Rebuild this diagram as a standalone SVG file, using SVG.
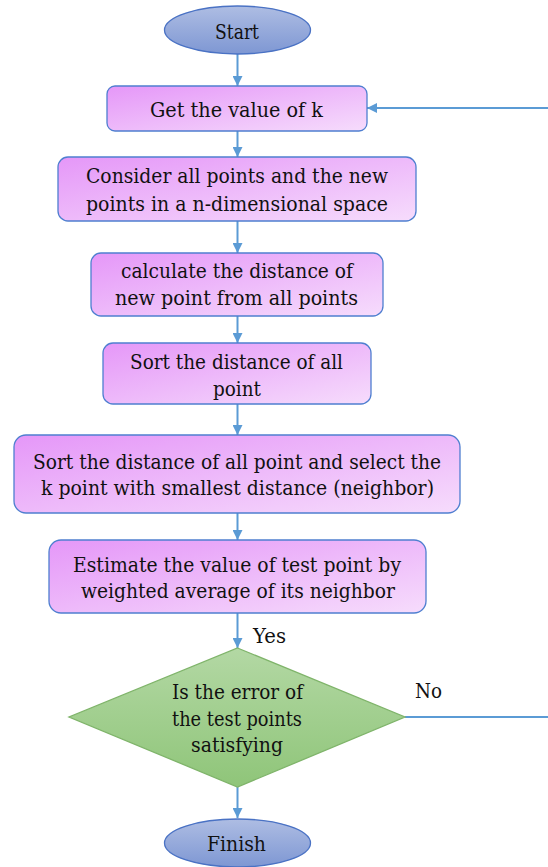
<svg xmlns="http://www.w3.org/2000/svg" width="548" height="867" viewBox="0 0 548 867">
<defs>
<linearGradient id="gE" x1="0" y1="0" x2="0" y2="1"><stop offset="0" stop-color="#aebde3"/><stop offset="1" stop-color="#7e97d3"/></linearGradient>
<linearGradient id="gB" x1="0" y1="0" x2="1" y2="1"><stop offset="0" stop-color="#e597f8"/><stop offset="1" stop-color="#f6dcfc"/></linearGradient>
<linearGradient id="gD" x1="0" y1="0" x2="0" y2="1"><stop offset="0" stop-color="#b3d8a4"/><stop offset="1" stop-color="#8fc579"/></linearGradient>
<marker id="ah" viewBox="0 0 10 10" refX="10" refY="5" markerWidth="5" markerHeight="5" orient="auto" markerUnits="strokeWidth"><path d="M0,0 L10,5 L0,10 z" fill="#5b9bd5"/></marker>
<style>
.t{font-family:'DejaVu Serif','Liberation Serif',serif;font-size:20px;fill:#111;text-anchor:middle}
.e{fill:url(#gE);stroke:#4a72c4;stroke-width:1.3}
.b{fill:url(#gB);stroke:#4f7fd0;stroke-width:1.3}
.d{fill:url(#gD);stroke:#7fb46a;stroke-width:1.3}
.c{fill:none;stroke:#5b9bd5;stroke-width:2}
</style>
</defs>
<g id="connectors">
<line class="c" x1="237.5" y1="54" x2="237.5" y2="86" marker-end="url(#ah)"/>
<line class="c" x1="237.5" y1="131" x2="237.5" y2="157" marker-end="url(#ah)"/>
<line class="c" x1="237.5" y1="221" x2="237.5" y2="253" marker-end="url(#ah)"/>
<line class="c" x1="237.5" y1="316" x2="237.5" y2="343" marker-end="url(#ah)"/>
<line class="c" x1="237.5" y1="404" x2="237.5" y2="435" marker-end="url(#ah)"/>
<line class="c" x1="237.5" y1="513" x2="237.5" y2="540" marker-end="url(#ah)"/>
<line class="c" x1="237.5" y1="613" x2="237.5" y2="648" marker-end="url(#ah)"/>
<line class="c" x1="237.5" y1="787" x2="237.5" y2="818" marker-end="url(#ah)"/>
<path class="c" d="M405,717 H552 V108 H367" marker-end="url(#ah)"/>
<text class="t" x="269.5" y="643" textLength="33" lengthAdjust="spacingAndGlyphs">Yes</text>
<text class="t" x="428.5" y="698" textLength="27" lengthAdjust="spacingAndGlyphs">No</text>
</g>
<g id="start"><ellipse class="e" cx="237.5" cy="30" rx="73" ry="24"/><text class="t" x="237" y="39" textLength="44" lengthAdjust="spacingAndGlyphs">Start</text></g>
<g id="getk"><rect class="b" x="107" y="86" width="260" height="45" rx="8"/><text class="t" x="236.5" y="117" textLength="173" lengthAdjust="spacingAndGlyphs">Get the value of k</text></g>
<g id="consider"><rect class="b" x="58" y="157" width="358" height="64" rx="10"/><text class="t" x="237" y="183" textLength="302" lengthAdjust="spacingAndGlyphs">Consider all points and the new</text><text class="t" x="237" y="211" textLength="302" lengthAdjust="spacingAndGlyphs">points in a n-dimensional space</text></g>
<g id="calc"><rect class="b" x="91" y="253" width="292" height="63" rx="10"/><text class="t" x="237" y="278" textLength="232" lengthAdjust="spacingAndGlyphs">calculate the distance of</text><text class="t" x="236.5" y="305" textLength="243" lengthAdjust="spacingAndGlyphs">new point from all points</text></g>
<g id="sort1"><rect class="b" x="103" y="343" width="268" height="61" rx="10"/><text class="t" x="236.5" y="369" textLength="213" lengthAdjust="spacingAndGlyphs">Sort the distance of all</text><text class="t" x="237" y="396" textLength="48" lengthAdjust="spacingAndGlyphs">point</text></g>
<g id="sort2"><rect class="b" x="14" y="435" width="446" height="78" rx="12"/><text class="t" x="237" y="469" textLength="408" lengthAdjust="spacingAndGlyphs">Sort the distance of all point and select the</text><text class="t" x="237.5" y="495" textLength="393" lengthAdjust="spacingAndGlyphs">k point with smallest distance (neighbor)</text></g>
<g id="estimate"><rect class="b" x="49" y="540" width="377" height="73" rx="12"/><text class="t" x="237" y="572" textLength="328" lengthAdjust="spacingAndGlyphs">Estimate the value of test point by</text><text class="t" x="238" y="598" textLength="314" lengthAdjust="spacingAndGlyphs">weighted average of its neighbor</text></g>
<g id="decision"><polygon class="d" points="237.5,648 405,717 237.5,787 69,717"/><text class="t" x="237.5" y="699" textLength="131" lengthAdjust="spacingAndGlyphs">Is the error of</text><text class="t" x="237" y="726" textLength="130" lengthAdjust="spacingAndGlyphs">the test points</text><text class="t" x="237" y="752" textLength="92" lengthAdjust="spacingAndGlyphs">satisfying</text></g>
<g id="finish"><ellipse class="e" cx="237.5" cy="843" rx="73" ry="24"/><text class="t" x="236.5" y="851" textLength="59" lengthAdjust="spacingAndGlyphs">Finish</text></g>
</svg>
